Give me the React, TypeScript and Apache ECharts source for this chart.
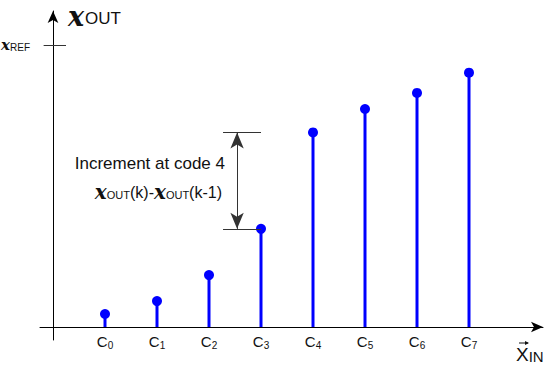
import React, { useEffect, useRef } from "react";
import * as echarts from "echarts";

const codeIndices = [0, 1, 2, 3, 4, 5, 6, 7];
const codePositions = [1, 2, 3, 4, 5, 6, 7, 8];
const outputValues = [0.046, 0.092, 0.184, 0.348, 0.69, 0.773, 0.83, 0.902];
const refValue = 1;
const annotationLines = ["Increment at code 4"];

const BLUE = "#0000ff";
const FONT = "Liberation Sans, Arial, sans-serif";
const SCRIPT_X = "x";
const SCRIPT_FONT = "DejaVu Serif, serif";

export default function App() {
  const ref = useRef<HTMLDivElement>(null);
  useEffect(() => {
    document.body.style.margin = "0";
    const chart = echarts.init(ref.current!, null, { renderer: "svg" });
    const pts = codePositions.map((p, i) => [p, outputValues[i]]);
    const v3 = outputValues[3];
    const v4 = outputValues[4];
    const sx = (size: number) => ({
      fontSize: size,
      fontFamily: SCRIPT_FONT,
      fontStyle: "italic",
      fontWeight: "bold",
    });
    chart.setOption({
      animation: false,
      backgroundColor: "#fff",
      grid: {
        left: 40,
        right: 1,
        top: 11,
        bottom: 26,
        containLabel: false,
        outerBoundsMode: "none",
      },
      xAxis: {
        type: "value",
        min: -0.25,
        max: 9.423,
        splitLine: { show: false },
        axisTick: { show: false },
        axisLine: {
          onZero: true,
          symbol: ["none", "arrow"],
          symbolSize: [8, 12],
          lineStyle: { color: "#000", width: 1 },
        },
        axisLabel: {
          customValues: codePositions,
          margin: -7,
          formatter: (v: number) => `{c|C}{s|${codeIndices[v - 1]}}`,
          rich: {
            c: { fontSize: 15, fontFamily: FONT, color: "#111" },
            s: { fontSize: 10, fontFamily: FONT, color: "#111", padding: [7, 0, 0, 0] },
          },
        },
      },
      yAxis: {
        type: "value",
        min: -0.0461,
        max: 1.1206,
        splitLine: { show: false },
        axisTick: { show: false },
        axisLine: {
          onZero: true,
          symbol: ["none", "arrow"],
          symbolSize: [8, 12],
          lineStyle: { color: "#000", width: 1 },
        },
        axisLabel: {
          customValues: [refValue],
          margin: 10,
          formatter: () => `{x|${SCRIPT_X}}{s|REF}`,
          rich: {
            x: { ...sx(15), color: "#111" },
            s: { fontSize: 10, fontFamily: FONT, color: "#111", padding: [4, 0, 0, 0] },
          },
        },
      },
      series: [
        {
          type: "bar",
          data: pts,
          barWidth: 3,
          itemStyle: { color: BLUE },
          z: 2,
        },
        {
          type: "scatter",
          data: pts,
          symbolSize: 10,
          itemStyle: { color: BLUE, opacity: 1 },
          z: 3,
          markLine: {
            silent: true,
            symbol: ["none", "none"],
            label: { show: false },
            lineStyle: { color: "#333", width: 1, type: "solid" },
            data: [
              [{ coord: [-0.18, refValue] }, { coord: [0.25, refValue] }],
              [{ coord: [3.27, v4] }, { coord: [4.0, v4] }],
              [{ coord: [3.27, v3] }, { coord: [4.0, v3] }],
              [
                { coord: [3.54, v4], symbol: "arrow", symbolSize: [10, 16] },
                { coord: [3.54, v3], symbol: "arrow", symbolSize: [10, 16] },
              ],
            ],
          },
        },
      ],
      graphic: [
        {
          type: "text",
          x: 68,
          y: 16,
          style: {
            text: `{x|${SCRIPT_X}}{s|OUT}`,
            verticalAlign: "middle",
            rich: {
              x: { ...sx(27), fill: "#111" },
              s: { fontSize: 17, fontFamily: FONT, fill: "#111", padding: [5, 0, 0, 1] },
            },
          },
        },
        {
          type: "text",
          x: 225,
          y: 163,
          style: {
            text: annotationLines[0],
            align: "right",
            verticalAlign: "middle",
            fontSize: 17,
            fontFamily: FONT,
            fill: "#111",
          },
        },
        {
          type: "text",
          x: 222,
          y: 192,
          style: {
            text: `{x|${SCRIPT_X}}{s|OUT}{n|(k)-}{x|${SCRIPT_X}}{s|OUT}{n|(k-1)}`,
            align: "right",
            verticalAlign: "middle",
            rich: {
              x: { ...sx(20), fill: "#111" },
              s: { fontSize: 11, fontFamily: FONT, fill: "#111", padding: [5, 0, 0, 0] },
              n: { fontSize: 16, fontFamily: FONT, fill: "#111" },
            },
          },
        },
        {
          type: "text",
          x: 516,
          y: 354,
          style: {
            text: "{x|X}{s|IN}",
            verticalAlign: "middle",
            rich: {
              x: { fontSize: 19, fontFamily: FONT, fill: "#111" },
              s: { fontSize: 15, fontFamily: FONT, fill: "#111", padding: [5, 0, 0, 0] },
            },
          },
        },
        {
          type: "line",
          shape: { x1: 519, y1: 343, x2: 528, y2: 343 },
          style: { stroke: "#111", lineWidth: 1 },
        },
        {
          type: "polygon",
          shape: { points: [[529, 343], [525, 341], [525, 345]] },
          style: { fill: "#111" },
        },
      ],
    });
    return () => chart.dispose();
  }, []);
  return (
    <div
      ref={ref}
      style={{ position: "absolute", left: 0, top: 0, width: 544, height: 366 }}
    />
  );
}
